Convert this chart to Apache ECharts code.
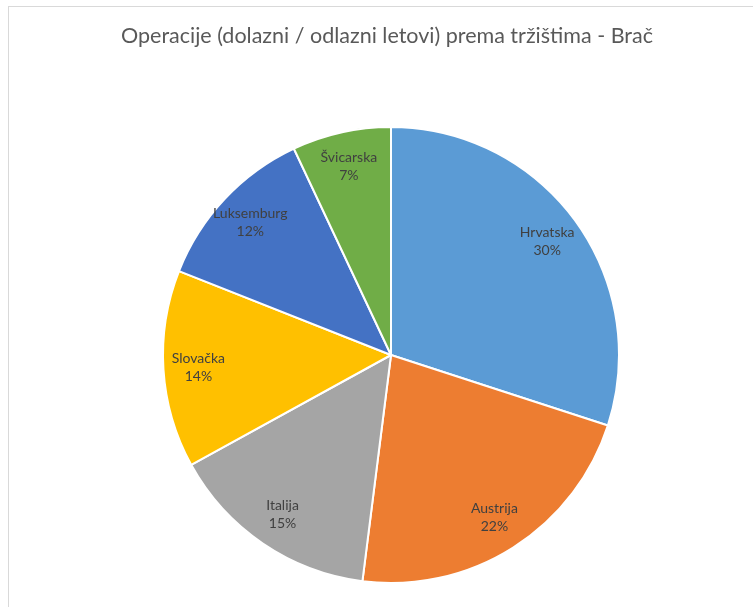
<!DOCTYPE html>
<html>
<head>
<meta charset="utf-8">
<script src="https://cdn.jsdelivr.net/npm/echarts@6/dist/echarts.min.js"></script>
<style>
  html, body { margin: 0; padding: 0; background: #fff; }
  #frame { position: absolute; left: 8px; top: 6px; width: 760px; height: 620px; border-top: 1px solid #d9d9d9; border-left: 1px solid #d9d9d9; }
  #chart { position: absolute; left: 0; top: 0; width: 753px; height: 607px; }
</style>
</head>
<body>
<div id="frame"></div>
<div id="chart"></div>
<script>
const titleText = 'Operacije (dolazni / odlazni letovi) prema tržištima - Brač';
const categories = ['Hrvatska', 'Austrija', 'Italija', 'Slovačka', 'Luksemburg', 'Švicarska'];
const shares = [30, 22, 15, 14, 12, 7];
const colors = ['#5B9BD5', '#ED7D31', '#A5A5A5', '#FFC000', '#4472C4', '#70AD47'];

const data = categories.map((c, i) => ({ name: c, value: shares[i], itemStyle: { color: colors[i] } }));
const labelData = categories.map((c, i) => ({ name: c, value: shares[i] }));

const chart = echarts.init(document.getElementById('chart'), null, { renderer: 'canvas' });
chart.setOption({
  animation: false,
  graphic: [{
    type: 'text',
    x: 387,
    y: 25,
    silent: true,
    style: {
      text: titleText,
      align: 'center',
      verticalAlign: 'top',
      fontFamily: 'Lato',
      fontSize: 21.5,
      fill: '#595959'
    }
  }],
  series: [
    {
      type: 'pie',
      center: [391, 355],
      radius: [0, 228],
      startAngle: 90,
      clockwise: true,
      data: data,
      itemStyle: { borderColor: '#ffffff', borderWidth: 2 },
      label: { show: false },
      labelLine: { show: false },
      emphasis: { disabled: true }
    },
    {
      type: 'pie',
      center: [391, 355],
      radius: [152, 228],
      startAngle: 90,
      clockwise: true,
      silent: true,
      data: labelData,
      itemStyle: { color: 'rgba(0,0,0,0)', borderWidth: 0 },
      label: {
        show: true,
        position: 'inside',
        formatter: '{b}\n{d}%',
        fontFamily: 'Lato',
        fontSize: 14,
        lineHeight: 18,
        color: '#404040'
      },
      labelLine: { show: false },
      emphasis: { disabled: true }
    }
  ]
});
</script>
</body>
</html>
